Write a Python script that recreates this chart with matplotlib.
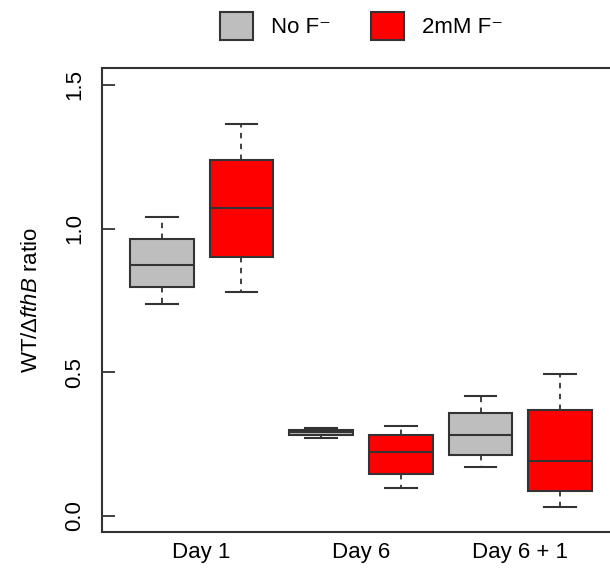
import numpy as np
import matplotlib
matplotlib.use("Agg")
import matplotlib.pyplot as plt
from matplotlib.patches import Patch

plt.rcParams['font.family'] = ['Liberation Sans', 'DejaVu Sans']
plt.rcParams['mathtext.fontset'] = 'custom'
plt.rcParams['mathtext.rm'] = 'Liberation Sans'
plt.rcParams['mathtext.it'] = 'Liberation Sans:italic'

# data
days = ['Day 1', 'Day 6', 'Day 6 + 1']
groups = ['No F⁻', '2mM F⁻']
colors = ['#bebebe', '#ff0000']

# order: Day1 NoF, Day1 2mM, Day6 NoF, Day6 2mM, Day6+1 NoF, Day6+1 2mM
whislo = [0.738, 0.780, 0.271, 0.097, 0.171, 0.031]
q1 = [0.797, 0.901, 0.282, 0.146, 0.212, 0.087]
med = [0.874, 1.072, 0.292, 0.223, 0.282, 0.191]
q3 = [0.964, 1.239, 0.299, 0.282, 0.359, 0.369]
whishi = [1.040, 1.364, 0.306, 0.313, 0.418, 0.494]

edge = '#333333'

fig = plt.figure(figsize=(6.1, 5.71), dpi=100)
ax = fig.add_axes([102/610, 1 - 532/571, 1 - 102/610, (532 - 68)/571])

stats = []
for i in range(len(med)):
    stats.append(dict(whislo=whislo[i], q1=q1[i], med=med[i], q3=q3[i],
                      whishi=whishi[i], fliers=[]))

pos = np.arange(1, len(med) + 1)
bp = ax.bxp(stats, positions=pos, widths=0.8, patch_artist=True,
            showfliers=False,
            boxprops=dict(edgecolor=edge, linewidth=1.5),
            medianprops=dict(color=edge, linewidth=1.5),
            whiskerprops=dict(color=edge, linewidth=1.3, linestyle=(0, (3, 3))),
            capprops=dict(color=edge, linewidth=1.5),
            capwidths=0.4)
for i, box in enumerate(bp['boxes']):
    box.set_facecolor(colors[i % 2])

ax.set_xlim(0.25, 6.625)
ax.set_ylim(-0.0557, 1.559)
ax.set_xticks([1.5, 3.5, 5.5])
ax.set_xticklabels(days, fontsize=16)
ax.tick_params(axis='x', length=0, pad=7)
ax.set_yticks([0.0, 0.5, 1.0, 1.5])
ax.set_yticklabels(['0.0', '0.5', '1.0', '1.5'], rotation=90, va='center', fontsize=16)
ax.tick_params(axis='y', direction='in', length=9, width=1.3, color=edge, pad=12)

ax.spines['right'].set_visible(False)
for s in ['left', 'top', 'bottom']:
    ax.spines[s].set_color(edge)
    ax.spines[s].set_linewidth(1.5)

ax.set_ylabel(r'WT/$\mathit{\Delta fthB}$ ratio', fontsize=16, labelpad=16)

handles = [Patch(facecolor=c, edgecolor=edge, linewidth=1.5) for c in colors]
fig.legend(handles, groups, loc='center', bbox_to_anchor=(0.592, 1 - 26/571), ncol=2,
           frameon=False, fontsize=16, handlelength=1.5, handleheight=1.5,
           columnspacing=1.8, handletextpad=0.8)

plt.savefig('out.png', dpi=100)
